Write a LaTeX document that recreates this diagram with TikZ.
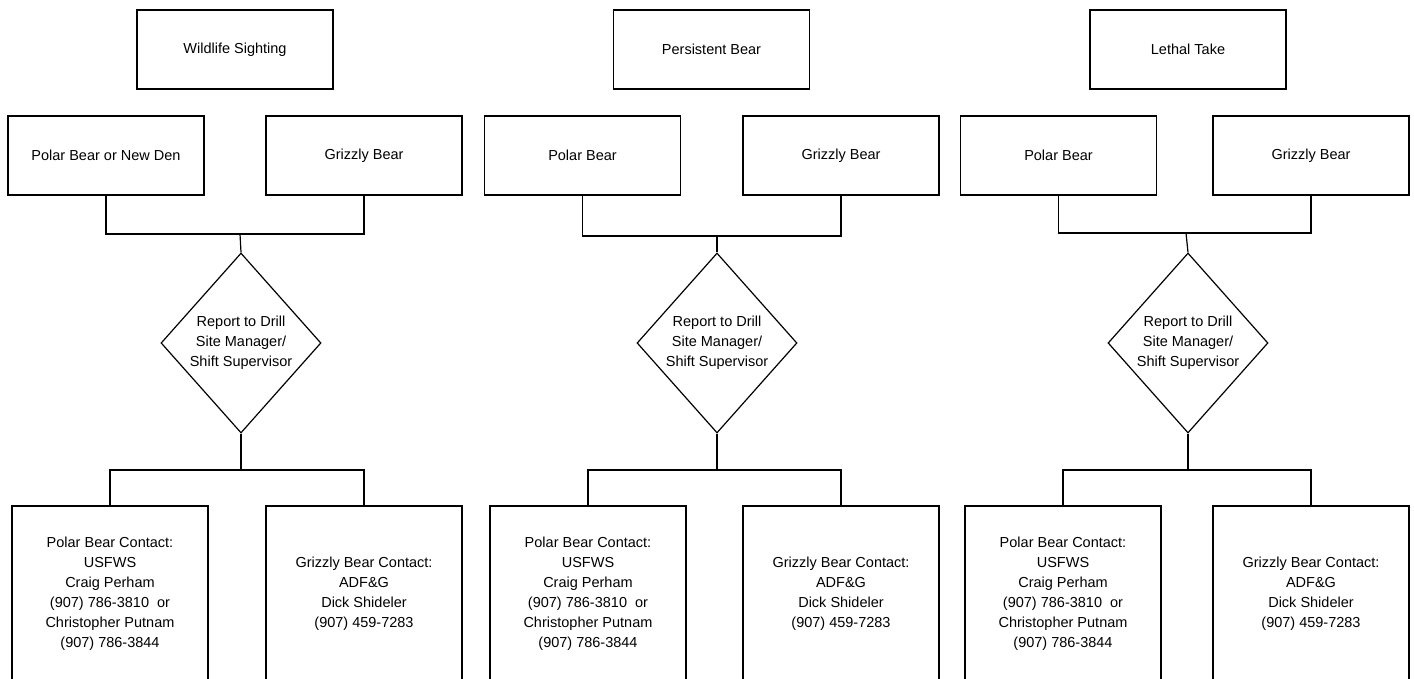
\documentclass[tikz,border=0pt]{standalone}
\usepackage{fontspec}
\setmainfont{Liberation Sans}
\usetikzlibrary{shapes.geometric}
\tikzset{
  box/.style={draw, line width=1.2pt, minimum width=196pt, minimum height=79pt, inner sep=0pt, align=center, font=\fontsize{14.5}{20}\selectfont},
  contact/.style={draw, line width=1.2pt, minimum width=196pt, minimum height=176pt, inner sep=0pt, align=center, font=\fontsize{14.5}{20}\selectfont},
  dia/.style={draw, diamond, line width=1.2pt, minimum width=160pt, minimum height=180pt, inner sep=0pt},
  diatext/.style={align=center, inner sep=0pt, font=\fontsize{14.5}{20}\selectfont},
  conn/.style={line width=1.2pt},
}
\begin{document}
\begin{tikzpicture}[x=1pt,y=-1pt]
\useasboundingbox (0,0) rectangle (1414,679);
\clip (0,0) rectangle (1414,679);
% ---------- column 1 ----------
\node[box] (t1) at (235,49.5) {Wildlife Sighting};
\node[box] (p1) at (106,155.5) {Polar Bear or New Den};
\node[box] (g1) at (364,155.5) {Grizzly Bear};
\node[dia] (d1) at (241,343) {};
\node[diatext] (dt1) at (d1.center) {Report to Drill\\Site Manager/\\Shift Supervisor};
\node[contact] (c1) at (110,594) {Polar Bear Contact:\\USFWS\\Craig Perham\\(907) 786-3810~ or\\Christopher Putnam\\(907) 786-3844};
\node[contact] (e1) at (364,594) {Grizzly Bear Contact:\\ADF\&G\\Dick Shideler\\(907) 459-7283};
\coordinate (j1) at (240,234);
\coordinate (k1) at (241,470);
\draw[conn] (p1.south) |- (j1) -| (g1.south);
\draw[conn] (j1) -- (d1.north);
\draw[conn] (d1.south) -- (k1);
\draw[conn] (c1.north) |- (k1) -| (e1.north);
% ---------- column 2 ----------
\node[box] (t2) at (711.5,49.5) {Persistent Bear};
\node[box] (p2) at (582.5,155.5) {Polar Bear};
\node[box] (g2) at (841,155.5) {Grizzly Bear};
\node[dia] (d2) at (717,343) {};
\node[diatext] (dt2) at (d2.center) {Report to Drill\\Site Manager/\\Shift Supervisor};
\node[contact] (c2) at (588,594) {Polar Bear Contact:\\USFWS\\Craig Perham\\(907) 786-3810~ or\\Christopher Putnam\\(907) 786-3844};
\node[contact] (e2) at (841,594) {Grizzly Bear Contact:\\ADF\&G\\Dick Shideler\\(907) 459-7283};
\coordinate (j2) at (717,236);
\coordinate (k2) at (717,470);
\draw[conn] (p2.south) |- (j2) -| (g2.south);
\draw[conn] (j2) -- (d2.north);
\draw[conn] (d2.south) -- (k2);
\draw[conn] (c2.north) |- (k2) -| (e2.north);
% ---------- column 3 ----------
\node[box] (t3) at (1188,49.5) {Lethal Take};
\node[box] (p3) at (1058.5,155.5) {Polar Bear};
\node[box] (g3) at (1311,155.5) {Grizzly Bear};
\node[dia] (d3) at (1188,343) {};
\node[diatext] (dt3) at (d3.center) {Report to Drill\\Site Manager/\\Shift Supervisor};
\node[contact] (c3) at (1063,594) {Polar Bear Contact:\\USFWS\\Craig Perham\\(907) 786-3810~ or\\Christopher Putnam\\(907) 786-3844};
\node[contact] (e3) at (1311,594) {Grizzly Bear Contact:\\ADF\&G\\Dick Shideler\\(907) 459-7283};
\coordinate (j3) at (1186,233);
\coordinate (k3) at (1188,470);
\draw[conn] (p3.south) |- (j3) -| (g3.south);
\draw[conn] (j3) -- (d3.north);
\draw[conn] (d3.south) -- (k3);
\draw[conn] (c3.north) |- (k3) -| (e3.north);
\end{tikzpicture}
\end{document}
